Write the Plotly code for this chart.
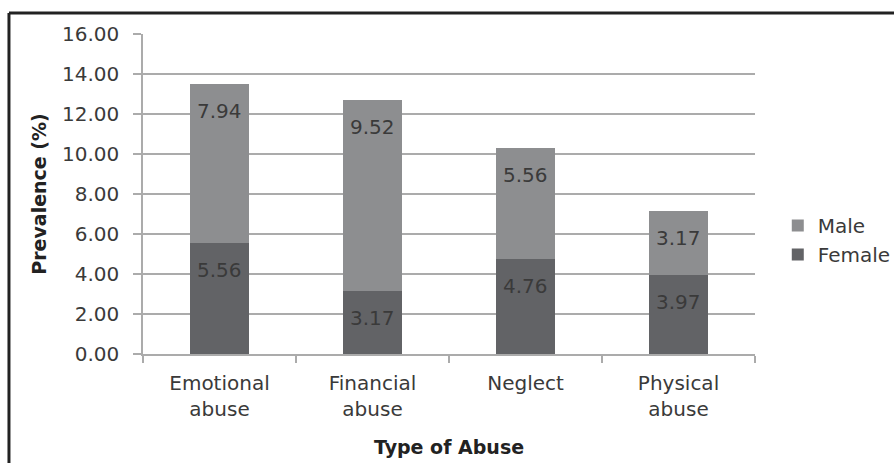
import plotly.graph_objects as go

categories = ["Emotional<br>abuse", "Financial<br>abuse", "Neglect", "Physical<br>abuse"]
female = [5.56, 3.17, 4.76, 3.97]
male = [7.94, 9.52, 5.56, 3.17]
y_ticks = [0, 2, 4, 6, 8, 10, 12, 14, 16]

FONT = "DejaVu Sans"
MALE_C = "#8d8e90"
FEMALE_C = "#626366"
GRID_C = "#ababab"
TEXT_C = "#3a3a3a"

fig = go.Figure()
fig.add_trace(go.Bar(x=categories, y=female, name="Female", marker=dict(color=FEMALE_C, line=dict(width=0))))
fig.add_trace(go.Bar(x=categories, y=male, name="Male", marker=dict(color=MALE_C, line=dict(width=0))))

annotations = []
for c, f, m in zip(categories, female, male):
    annotations.append(dict(x=c, y=f, text=f"{f:.2f}", showarrow=False, yanchor="top", yshift=-13,
                            font=dict(family=FONT, size=20, color=TEXT_C)))
    annotations.append(dict(x=c, y=f + m, text=f"{m:.2f}", showarrow=False, yanchor="top", yshift=-13,
                            font=dict(family=FONT, size=20, color=TEXT_C)))

# outer frame (top and left edges of the cropped chart border)
shapes = [
    dict(type="line", xref="paper", yref="paper", x0=-0.219, x1=1.5, y0=1.0656, y1=1.0656,
         line=dict(color="#222222", width=3)),
    dict(type="line", xref="paper", yref="paper", x0=-0.219, x1=-0.219, y0=1.0656, y1=-0.6,
         line=dict(color="#222222", width=3)),
]

fig.update_layout(
    width=894, height=463,
    margin=dict(l=143, r=139, t=34, b=109, autoexpand=False),
    paper_bgcolor="white", plot_bgcolor="white",
    barmode="stack", bargap=0.608,
    font=dict(family=FONT, size=20, color=TEXT_C),
    showlegend=True,
    legend=dict(xref="container", yref="container", x=0.870, xanchor="left", y=1 - 240 / 463, yanchor="middle",
                traceorder="reversed", tracegroupgap=0,
                font=dict(family=FONT, size=20, color=TEXT_C), bgcolor="rgba(0,0,0,0)",
                itemclick=False),
    annotations=annotations,
    shapes=shapes,
    xaxis=dict(
        title=dict(text="<b>Type of Abuse</b>", font=dict(family=FONT, size=19, color="#222222"), standoff=21),
        showline=True, linecolor=GRID_C, linewidth=1.5,
        ticks="outside", ticklen=7, tickcolor=GRID_C, tickwidth=1.5, tickson="boundaries",
        ticklabelstandoff=10,
        tickfont=dict(family=FONT, size=20, color=TEXT_C),
        showgrid=False,
    ),
    yaxis=dict(
        title=dict(text="<b>Prevalence (%)</b>", font=dict(family=FONT, size=19, color="#222222"), standoff=10),
        range=[0, 16], tickvals=y_ticks, tickformat=".2f",
        showline=True, linecolor=GRID_C, linewidth=1.5,
        ticks="outside", ticklen=8, tickcolor=GRID_C, tickwidth=1.5,
        ticklabelstandoff=10,
        showgrid=True, gridcolor=GRID_C, gridwidth=1.5,
        tickfont=dict(family=FONT, size=20, color=TEXT_C),
        zeroline=False,
    ),
)

fig.write_html("out.html")
